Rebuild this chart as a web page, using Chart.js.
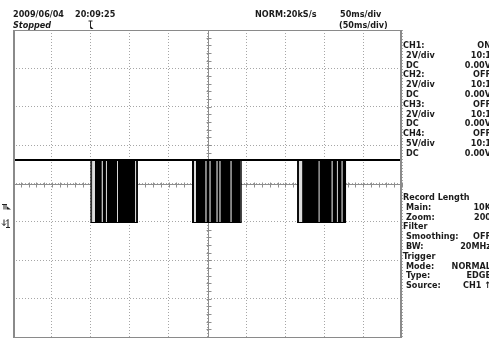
<!DOCTYPE html>
<html>
<head>
<meta charset="utf-8">
<script src="https://cdn.jsdelivr.net/npm/chart.js@4"></script>
<style>
  html, body { margin: 0; padding: 0; background: #fff; overflow: hidden; }
  #wrap { position: relative; width: 489px; height: 338px; overflow: hidden; }
  #scope { position: absolute; left: 0; top: 0; }
  .t { position: absolute; font: bold 9px "DejaVu Sans Condensed", "DejaVu Sans", sans-serif;
       color: #1b1b1b; line-height: 10px; white-space: nowrap; }
  .r { text-align: right; }
</style>
</head>
<body>
<div id="wrap">
  <canvas id="scope" width="489" height="338"></canvas>
  <div class="t" style="left:13px;top:9px">2009/06/04</div>
  <div class="t" style="left:75px;top:9px">20:09:25</div>
  <div class="t" style="left:13px;top:20px;font-style:italic">Stopped</div>
  <div class="t" style="left:255px;top:9px">NORM:20kS/s</div>
  <div class="t" style="left:340px;top:9px">50ms/div</div>
  <div class="t" style="left:339px;top:20px">(50ms/div)</div>
  <div id="panel"></div>
</div>
<script>
// horizontal axis: 50 ms/div, 10 divisions
const timeMin = 0;
const timeMax = 500;
const timeStep = 50;
// vertical axis: CH1 2 V/div, 8 divisions (screen volts)
const voltMin = -8;
const voltMax = 8;
const voltStep = 2;

// CH1 logic levels
const highLevel = 1.22;
const lowLevel = -2.0;

// bursts of activity (ms)
const burstStart = [100.8, 231.4, 366.4];
const burstEnd = [159.3, 292.7, 426.8];

// dense toggling blocks inside the bursts (ms)
const blockFrom = [100.8, 105.3, 115.2, 120.5, 134.8, 157.9,
                   231.4, 235.2, 248.5, 253.7, 262.7, 266.5, 280.7,
                   366.4, 371.6, 393.8, 410.6, 417.3, 423.4];
const blockTo = [101.9, 114.2, 119.5, 133.8, 157.0, 159.3,
                 232.7, 247.6, 252.8, 261.8, 265.6, 279.8, 292.7,
                 367.7, 393.0, 409.7, 416.4, 422.5, 426.8];

// markers
const triggerTime = 99;     // trigger position (ms)
const triggerLevel = -1.2;  // trigger level (screen V)
const groundLevel = -2.08;  // CH1 ground (screen V)

// side panel text
const panelLabels = ["CH1:", " 2V/div", " DC", "CH2:", " 2V/div", " DC", "CH3:", " 2V/div", " DC",
                     "CH4:", " 5V/div", " DC"];
const panelValues = ["ON", "10:1", "0.00V", "OFF", "10:1", "0.00V", "OFF", "10:1", "0.00V",
                     "OFF", "10:1", "0.00V"];
const panel2Labels = ["Record Length", " Main:", " Zoom:", "Filter", " Smoothing:", " BW:",
                      "Trigger", " Mode:", " Type:", " Source:"];
const panel2Values = ["", "10K", "200", "", "OFF", "20MHz", "", "NORMAL", "EDGE", "CH1 \u2191"];

// build panel
const panel = document.getElementById("panel");
function addRows(labels, values, top) {
  labels.forEach((lab, i) => {
    const y = top + i * 9.8;
    const l = document.createElement("div");
    l.className = "t";
    l.style.left = (lab.startsWith(" ") ? 406 : 403) + "px";
    l.style.top = y + "px";
    l.textContent = lab.trim();
    panel.appendChild(l);
    if (values[i]) {
      const v = document.createElement("div");
      v.className = "t r";
      v.style.right = "-2px";
      v.style.top = y + "px";
      v.textContent = values[i];
      panel.appendChild(v);
    }
  });
}
addRows(panelLabels, panelValues, 40);
addRows(panel2Labels, panel2Values, 192);

// trace: stepped outline of the signal
const tracePts = [{ x: timeMin, y: highLevel }];
burstStart.forEach((s, i) => {
  tracePts.push({ x: s, y: lowLevel });
  tracePts.push({ x: burstEnd[i], y: highLevel });
});
tracePts.push({ x: timeMax, y: highLevel });

// burst envelopes (sparse toggling shows as light grey)
const envelopePts = [];
burstStart.forEach((s, i) => {
  envelopePts.push({ x: s, y: highLevel }, { x: burstEnd[i], y: highLevel }, { x: burstEnd[i], y: null });
});

// filled blocks
const blockPts = [];
blockFrom.forEach((f, i) => {
  blockPts.push({ x: f, y: highLevel }, { x: blockTo[i], y: highLevel }, { x: blockTo[i], y: null });
});

// grid decorations: frame, centre axes with sub ticks, markers
const scopeDecor = {
  id: "scopeDecor",
  beforeDatasetsDraw(chart) {
    const { ctx, chartArea: a, scales: { x, y } } = chart;
    ctx.save();
    const cx = Math.round(x.getPixelForValue((timeMin + timeMax) / 2)) + 0.5;
    const cy = Math.round(y.getPixelForValue(0)) + 0.5;
    ctx.strokeStyle = "#8e8e8e";
    ctx.lineWidth = 1;
    ctx.beginPath();
    ctx.moveTo(a.left, cy); ctx.lineTo(a.right, cy);
    ctx.moveTo(cx, a.top); ctx.lineTo(cx, a.bottom);
    for (let t = timeMin; t <= timeMax; t += timeStep / 5) {
      const px = Math.round(x.getPixelForValue(t)) + 0.5;
      ctx.moveTo(px, cy - 2); ctx.lineTo(px, cy + 3);
    }
    for (let v = voltMin; v <= voltMax; v += voltStep / 5) {
      const py = Math.round(y.getPixelForValue(v)) + 0.5;
      ctx.moveTo(cx - 2, py); ctx.lineTo(cx + 3, py);
    }
    ctx.stroke();
    ctx.restore();
  },
  afterDraw(chart) {
    const { ctx, chartArea: a, scales: { x, y } } = chart;
    ctx.save();
    // frame
    ctx.strokeStyle = "#8a8a8a";
    ctx.lineWidth = 1;
    ctx.strokeRect(a.left + 0.5, a.top + 0.5, a.right - a.left - 1, a.bottom - a.top);
    ctx.lineWidth = 2;
    ctx.beginPath();
    ctx.moveTo(a.left + 1, a.top); ctx.lineTo(a.left + 1, a.bottom);
    ctx.moveTo(a.right - 1, a.top); ctx.lineTo(a.right - 1, a.bottom);
    ctx.stroke();
    // trigger position marker
    ctx.fillStyle = "#222";
    ctx.strokeStyle = "#222";
    ctx.lineWidth = 1;
    const tx = Math.round(x.getPixelForValue(triggerTime)) + 0.5;
    ctx.beginPath();
    ctx.moveTo(tx - 2, a.top - 9); ctx.lineTo(tx + 2, a.top - 9);
    ctx.moveTo(tx, a.top - 9); ctx.lineTo(tx, a.top - 2);
    ctx.stroke();
    ctx.beginPath();
    ctx.moveTo(tx, a.top - 4); ctx.lineTo(tx + 3, a.top - 1); ctx.lineTo(tx, a.top - 1);
    ctx.fill();
    // trigger level marker
    const ty = Math.round(y.getPixelForValue(triggerLevel)) + 0.5;
    ctx.beginPath();
    ctx.moveTo(2, ty - 3); ctx.lineTo(7, ty - 3);
    ctx.moveTo(4, ty - 3); ctx.lineTo(4, ty + 2);
    ctx.moveTo(6, ty - 3); ctx.lineTo(6, ty + 2);
    ctx.stroke();
    ctx.beginPath();
    ctx.moveTo(7, ty - 1); ctx.lineTo(11, ty + 2); ctx.lineTo(7, ty + 2);
    ctx.fill();
    // ground marker
    const gy = Math.round(y.getPixelForValue(groundLevel)) + 0.5;
    ctx.beginPath();
    ctx.moveTo(4, gy - 4); ctx.lineTo(4, gy + 2);
    ctx.moveTo(2, gy); ctx.lineTo(4, gy + 2); ctx.lineTo(6, gy);
    ctx.moveTo(8, gy - 4); ctx.lineTo(8, gy + 4);
    ctx.moveTo(6, gy - 2); ctx.lineTo(8, gy - 4);
    ctx.moveTo(6, gy + 4); ctx.lineTo(10, gy + 4);
    ctx.stroke();
    ctx.restore();
  }
};

const ctx = document.getElementById("scope").getContext("2d");
const scopeChart = new Chart(ctx, {
  type: "line",
  data: {
    datasets: [
      {
        label: "CH1 activity",
        data: blockPts,
        borderColor: "#000",
        borderWidth: 2,
        backgroundColor: "#000",
        fill: { value: lowLevel },
        pointRadius: 0,
        spanGaps: false
      },
      {
        label: "CH1 burst",
        data: envelopePts,
        borderColor: "#000",
        borderWidth: 2,
        backgroundColor: "#dcdcdc",
        fill: { value: lowLevel },
        pointRadius: 0,
        spanGaps: false
      },
      {
        label: "CH1",
        data: tracePts,
        stepped: true,
        borderColor: "#000",
        borderWidth: 2,
        fill: false,
        pointRadius: 0
      }
    ]
  },
  options: {
    responsive: false,
    animation: false,
    events: [],
    layout: { padding: { left: 13, top: 30, right: 87, bottom: 1 } },
    plugins: { legend: { display: false }, tooltip: { enabled: false } },
    scales: {
      x: {
        type: "linear",
        min: timeMin,
        max: timeMax,
        ticks: { display: false, stepSize: timeStep },
        grid: { color: "#a6a6a6", lineWidth: 1, drawTicks: false },
        border: { display: false, dash: [1, 2] }
      },
      y: {
        type: "linear",
        min: voltMin,
        max: voltMax,
        ticks: { display: false, stepSize: voltStep },
        grid: { color: "#a6a6a6", lineWidth: 1, drawTicks: false },
        border: { display: false, dash: [1, 2] }
      }
    }
  },
  plugins: [scopeDecor]
});
</script>
</body>
</html>
